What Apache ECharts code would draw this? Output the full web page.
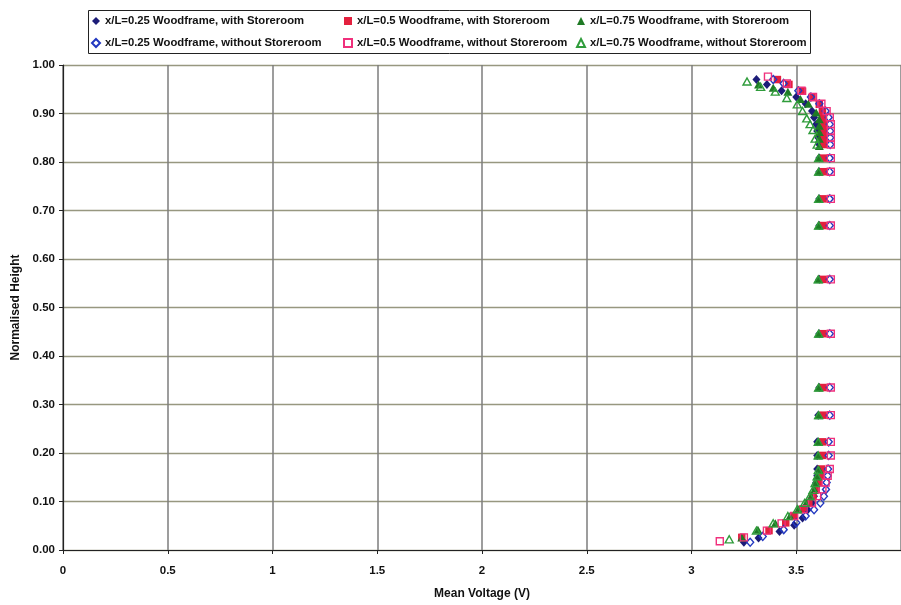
<!DOCTYPE html>
<html>
<head>
<meta charset="utf-8">
<script src="https://cdn.jsdelivr.net/npm/echarts@6/dist/echarts.min.js"></script>
<style>
  html, body { margin: 0; padding: 0; background: #ffffff; }
  #chart { width: 901px; height: 605px; }
</style>
</head>
<body>
<div id="chart"></div>
<script>
// Mean hot-wire voltage profiles against normalised height, three stations x/L,
// with and without the storeroom in place.

// x/L = 0.25, with storeroom
const h025With = [0.016, 0.025, 0.038, 0.051, 0.066, 0.083, 0.097, 0.111, 0.125, 0.139, 0.153, 0.167, 0.195, 0.223, 0.278, 0.335, 0.446, 0.558, 0.669, 0.724, 0.780, 0.808, 0.836, 0.850, 0.864, 0.878, 0.892, 0.905, 0.920, 0.934, 0.947, 0.960, 0.970];
const v025With = [3.25, 3.32, 3.42, 3.49, 3.53, 3.555, 3.575, 3.585, 3.59, 3.595, 3.60, 3.60, 3.60, 3.60, 3.605, 3.61, 3.61, 3.61, 3.61, 3.61, 3.61, 3.61, 3.61, 3.605, 3.60, 3.595, 3.585, 3.575, 3.545, 3.50, 3.43, 3.36, 3.31];

// x/L = 0.5, with storeroom
const h050With = [0.026, 0.040, 0.056, 0.070, 0.084, 0.097, 0.111, 0.125, 0.139, 0.153, 0.167, 0.195, 0.223, 0.278, 0.335, 0.446, 0.558, 0.669, 0.724, 0.780, 0.808, 0.836, 0.849, 0.863, 0.877, 0.891, 0.905, 0.919, 0.933, 0.946, 0.960, 0.970];
const v050With = [3.24, 3.37, 3.45, 3.49, 3.53, 3.56, 3.58, 3.595, 3.605, 3.615, 3.62, 3.625, 3.625, 3.628, 3.628, 3.628, 3.628, 3.628, 3.628, 3.63, 3.63, 3.632, 3.632, 3.632, 3.632, 3.63, 3.625, 3.61, 3.575, 3.53, 3.465, 3.41];

// x/L = 0.75, with storeroom
const h075With = [0.026, 0.042, 0.055, 0.070, 0.084, 0.097, 0.111, 0.124, 0.138, 0.152, 0.165, 0.195, 0.223, 0.278, 0.335, 0.446, 0.558, 0.669, 0.724, 0.780, 0.808, 0.833, 0.848, 0.862, 0.875, 0.888, 0.902, 0.920, 0.930, 0.945, 0.953, 0.960];
const v075With = [3.24, 3.317, 3.40, 3.47, 3.51, 3.547, 3.571, 3.587, 3.595, 3.60, 3.61, 3.605, 3.605, 3.607, 3.607, 3.607, 3.605, 3.607, 3.607, 3.607, 3.607, 3.61, 3.61, 3.61, 3.61, 3.61, 3.595, 3.558, 3.52, 3.46, 3.39, 3.32];

// x/L = 0.25, without storeroom
const h025Without = [0.016, 0.028, 0.042, 0.056, 0.070, 0.083, 0.097, 0.111, 0.125, 0.139, 0.153, 0.167, 0.195, 0.223, 0.278, 0.335, 0.446, 0.558, 0.669, 0.724, 0.780, 0.808, 0.836, 0.850, 0.864, 0.878, 0.892, 0.905, 0.920, 0.934, 0.947, 0.962, 0.970];
const v025Without = [3.28, 3.34, 3.44, 3.50, 3.545, 3.585, 3.615, 3.632, 3.642, 3.645, 3.65, 3.652, 3.655, 3.655, 3.66, 3.66, 3.66, 3.66, 3.66, 3.66, 3.66, 3.66, 3.662, 3.662, 3.662, 3.66, 3.655, 3.64, 3.61, 3.57, 3.51, 3.44, 3.39];

// x/L = 0.5, without storeroom
const h050Without = [0.018, 0.026, 0.040, 0.055, 0.070, 0.084, 0.097, 0.111, 0.125, 0.139, 0.153, 0.167, 0.195, 0.223, 0.278, 0.335, 0.446, 0.558, 0.669, 0.724, 0.780, 0.808, 0.836, 0.850, 0.864, 0.878, 0.892, 0.905, 0.920, 0.934, 0.947, 0.962, 0.976];
const v050Without = [3.135, 3.25, 3.36, 3.43, 3.49, 3.535, 3.575, 3.60, 3.625, 3.64, 3.65, 3.66, 3.665, 3.665, 3.665, 3.665, 3.665, 3.665, 3.665, 3.665, 3.665, 3.665, 3.665, 3.665, 3.665, 3.665, 3.66, 3.645, 3.62, 3.58, 3.525, 3.455, 3.365];

// x/L = 0.75, without storeroom
const h075Without = [0.022, 0.040, 0.055, 0.070, 0.084, 0.097, 0.111, 0.124, 0.138, 0.152, 0.165, 0.195, 0.223, 0.278, 0.335, 0.446, 0.558, 0.669, 0.724, 0.780, 0.808, 0.836, 0.848, 0.866, 0.878, 0.890, 0.905, 0.919, 0.932, 0.945, 0.955, 0.966];
const v075Without = [3.18, 3.31, 3.39, 3.46, 3.505, 3.54, 3.565, 3.58, 3.59, 3.60, 3.605, 3.605, 3.605, 3.607, 3.607, 3.607, 3.605, 3.607, 3.607, 3.607, 3.607, 3.60, 3.59, 3.58, 3.566, 3.55, 3.53, 3.505, 3.455, 3.40, 3.33, 3.265];

const seriesNames = [
  'x/L=0.25 Woodframe, with Storeroom',
  'x/L=0.5 Woodframe, with Storeroom',
  'x/L=0.75 Woodframe, with Storeroom',
  'x/L=0.25 Woodframe, without Storeroom',
  'x/L=0.5 Woodframe, without Storeroom',
  'x/L=0.75 Woodframe, without Storeroom'
];

const xAxisTitle = 'Mean Voltage (V)';
const yAxisTitle = 'Normalised Height';

function pairs(v, h) {
  return v.map((x, i) => [x, h[i]]);
}

const FONT = 'Liberation Sans, Arial, sans-serif';

const filled = (name, data, symbol, color, size) => ({
  name, type: 'scatter', data, symbol, symbolSize: size,
  itemStyle: { color: color, opacity: 1 },
  emphasis: { disabled: true }
});
const hollow = (name, data, symbol, color, size) => ({
  name, type: 'scatter', data, symbol, symbolSize: size,
  itemStyle: { color: 'rgba(255,255,255,0)', borderColor: color, borderWidth: 1.4, opacity: 1 },
  emphasis: { disabled: true }
});

const series = [
  filled(seriesNames[0], pairs(v025With, h025With), 'diamond', '#1c1c78', [8, 9]),
  filled(seriesNames[1], pairs(v050With, h050With), 'rect', '#e3203e', 7.5),
  filled(seriesNames[2], pairs(v075With, h075With), 'triangle', '#1f7a25', [9, 8]),
  hollow(seriesNames[3], pairs(v025Without, h025Without), 'diamond', '#2238c0', [7, 8]),
  hollow(seriesNames[4], pairs(v050Without, h050Without), 'rect', '#f0307c', 7),
  hollow(seriesNames[5], pairs(v075Without, h075Without), 'triangle', '#2f9c3b', [8, 7])
];

const legendCommon = {
  orient: 'vertical',
  top: 14,
  padding: 0,
  itemWidth: 8,
  itemHeight: 8,
  itemGap: 8,
  selectedMode: false,
  textStyle: { fontFamily: FONT, fontSize: 11.3, fontWeight: 'bold', color: '#111', lineHeight: 14 }
};

const chart = echarts.init(document.getElementById('chart'), null, { renderer: 'canvas' });
chart.setOption({
  backgroundColor: '#ffffff',
  animation: false,
  grid: { left: 63, top: 65, right: -4, bottom: 47, containLabel: false },
  legend: [
    Object.assign({ left: 91, data: [seriesNames[0], seriesNames[3]] }, legendCommon),
    Object.assign({ left: 343, data: [seriesNames[1], seriesNames[4]] }, legendCommon),
    Object.assign({ left: 576, data: [seriesNames[2], seriesNames[5]] }, legendCommon)
  ],
  graphic: [{
    type: 'rect',
    shape: { x: 88.5, y: 10.5, width: 722, height: 43 },
    style: { fill: 'none', stroke: '#222', lineWidth: 1 },
    silent: true
  }],
  xAxis: {
    type: 'value',
    min: 0, max: 4, interval: 0.5,
    name: xAxisTitle,
    nameLocation: 'middle',
    nameGap: 38,
    nameTextStyle: { fontFamily: FONT, fontSize: 12, fontWeight: 'bold', color: '#111' },
    axisLine: { show: true, onZero: false, lineStyle: { color: '#222', width: 1.2 } },
    axisTick: { show: true, length: 4, lineStyle: { color: '#222' } },
    axisLabel: {
      fontFamily: FONT, fontSize: 11.5, fontWeight: 'bold', color: '#111', margin: 15,
      showMaxLabel: false,
      formatter: v => String(v)
    },
    splitLine: { show: true, lineStyle: { color: '#7c7c7c', width: 1.5 } }
  },
  yAxis: {
    type: 'value',
    min: 0, max: 1, interval: 0.1,
    name: yAxisTitle,
    nameLocation: 'middle',
    nameGap: 38,
    nameRotate: 90,
    nameTextStyle: { fontFamily: FONT, fontSize: 12, fontWeight: 'bold', color: '#111' },
    axisLine: { show: true, onZero: false, lineStyle: { color: '#222', width: 1.2 } },
    axisTick: { show: true, length: 4, lineStyle: { color: '#222' } },
    axisLabel: {
      fontFamily: FONT, fontSize: 11.5, fontWeight: 'bold', color: '#111', margin: 8,
      formatter: v => v.toFixed(2)
    },
    splitLine: { show: true, lineStyle: { color: '#979780', width: 1.3 } }
  },
  series: series
});
</script>
</body>
</html>
